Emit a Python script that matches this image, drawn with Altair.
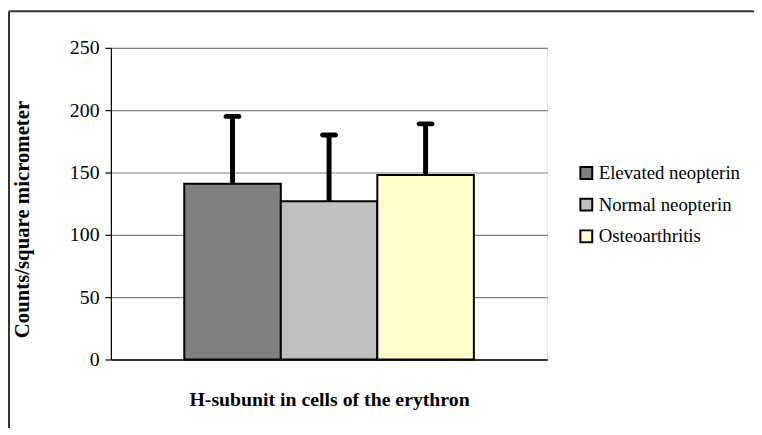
import altair as alt
import pandas as pd

groups = ["Elevated neopterin", "Normal neopterin", "Osteoarthritis"]
means = [141, 127, 148]
sds = [54, 53, 41]
colors = ["#808080", "#C0C0C0", "#FFFFCC"]
y_ticks = [0, 50, 100, 150, 200, 250]
x_title = "H-subunit in cells of the erythron"
y_title = "Counts/square micrometer"

df = pd.DataFrame({"group": groups, "mean": means, "sd": sds})
df["upper"] = df["mean"] + df["sd"]

FONT = "Liberation Serif"
W, H = 441, 315

xenc = alt.X("group:N", sort=groups,
             scale=alt.Scale(paddingInner=0, paddingOuter=0.76),
             axis=alt.Axis(labels=False, ticks=False, title=x_title,
                           domainColor="#000000", domainWidth=1.5,
                           titleFont=FONT, titleFontSize=20, titleFontWeight="bold",
                           titlePadding=31, titleColor="#000000"))

yscale = alt.Scale(domain=[0, 250], nice=False)

bars = alt.Chart(df).mark_bar(stroke="#000000", strokeWidth=2).encode(
    x=xenc,
    y=alt.Y("mean:Q", scale=yscale,
            axis=alt.Axis(values=y_ticks, title=y_title, grid=True,
                          gridColor="#808080", gridWidth=1.2,
                          domainColor="#000000", domainWidth=1.2,
                          tickColor="#000000", tickSize=6, tickWidth=1.2,
                          labelFont=FONT, labelFontSize=20, labelColor="#000000",
                          labelPadding=6,
                          titleFont=FONT, titleFontSize=21, titleFontWeight="bold",
                          titleColor="#000000", titleX=-89, titleY=173,
                          titleAngle=-90, titleBaseline="middle", titleAlign="center")),
    color=alt.Color("group:N", sort=groups,
                    scale=alt.Scale(domain=groups, range=colors),
                    legend=alt.Legend(title=None, orient="none", legendX=471, legendY=117,
                                      symbolType="square", symbolSize=144,
                                      symbolStrokeColor="#000000", symbolStrokeWidth=2,
                                      labelFont=FONT, labelFontSize=19, labelColor="#000000",
                                      labelOffset=3, rowPadding=11, padding=0)),
)

stems = alt.Chart(df).mark_rule(color="#000000", strokeWidth=5).encode(
    x=alt.X("group:N", sort=groups),
    y=alt.Y("mean:Q", scale=yscale),
    y2="upper:Q",
)

caps = alt.Chart(df).mark_tick(color="#000000", thickness=5, size=18, opacity=1,
                               cornerRadius=2.5, orient="horizontal").encode(
    x=alt.X("group:N", sort=groups),
    y=alt.Y("upper:Q", scale=yscale),
)

border = pd.DataFrame({"k": [0]})
top_border = alt.Chart(border).mark_rule(color="#333333", strokeWidth=2).encode(
    x=alt.value(-103), x2=alt.value(700), y=alt.value(-37))
left_border = alt.Chart(border).mark_rule(color="#333333", strokeWidth=2).encode(
    x=alt.value(-103), y=alt.value(-37), y2=alt.value(420))

chart = alt.layer(bars, stems, caps, top_border, left_border).properties(
    width=W, height=H,
    autosize=alt.AutoSizeParams(type="none"),
    padding={"left": 104, "top": 38, "right": 209, "bottom": 67},
).configure_view(stroke=None).configure(background="#ffffff")

chart.save("out.html", embed_options={"renderer": "svg", "actions": False})
